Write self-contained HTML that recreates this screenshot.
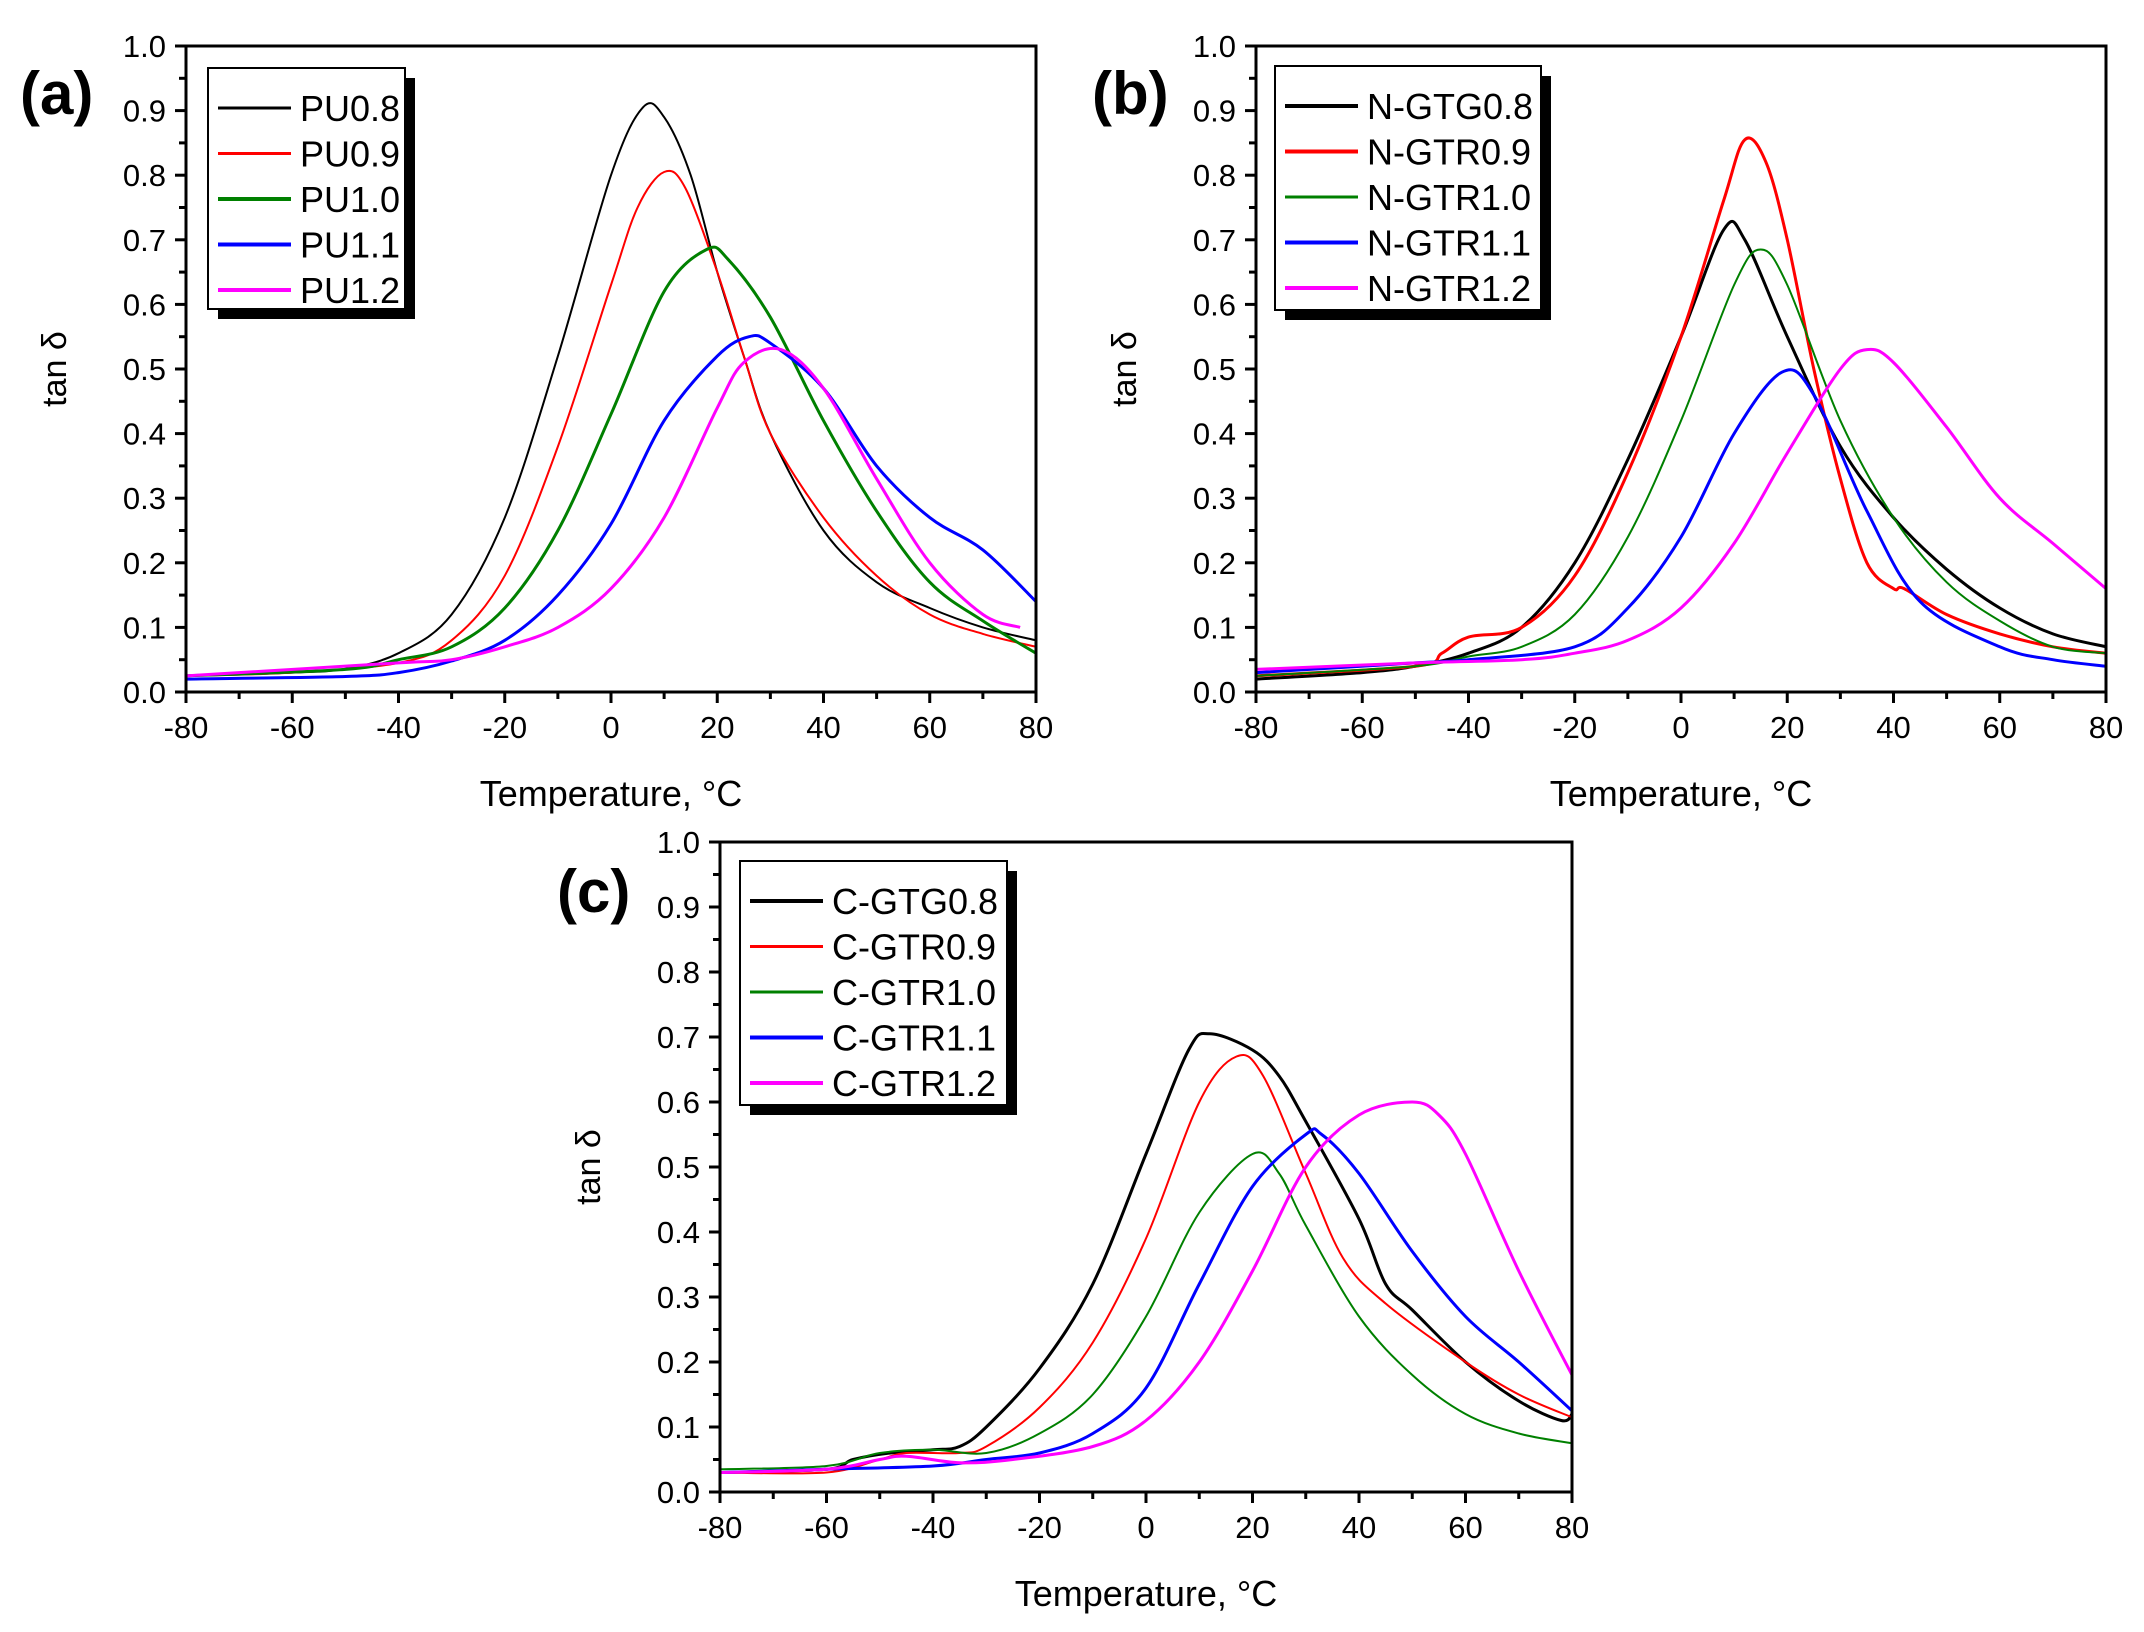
<!DOCTYPE html>
<html><head><meta charset="utf-8"><style>
html,body{margin:0;padding:0;background:#fff;}
svg{display:block;font-family:"Liberation Sans",Arial,sans-serif;}
</style></head><body>
<svg id="s" width="2144" height="1632" viewBox="0 0 2144 1632" xmlns="http://www.w3.org/2000/svg">
<rect width="2144" height="1632" fill="#fff"/>
<g id="g"></g>
<text x="20" y="114" font-size="60" font-weight="bold">(a)</text>
<text x="1092" y="114" font-size="60" font-weight="bold">(b)</text>
<text x="557" y="912" font-size="60" font-weight="bold">(c)</text>
</svg>
<script>
const NS="http://www.w3.org/2000/svg";
const g=document.getElementById('g');
function el(t,a,txt){const e=document.createElementNS(NS,t);for(const k in a)e.setAttribute(k,a[k]);if(txt!==undefined)e.textContent=txt;g.appendChild(e);return e;}
const COL=['#000','#ff0000','#008000','#0000ff','#ff00ff'];
function panel(L,T,W,H,leg,names,widths,data){
  const R=L+W,B=T+H;
  const X=t=>L+(t+80)/160*W, Y=v=>B-v*H;
  data.forEach((pts,i)=>{
    const P=pts.map(p=>[X(p[0]),Y(p[1])]);
    let d='M'+P[0][0].toFixed(1)+','+P[0][1].toFixed(1);
    for(let k=0;k<P.length-1;k++){
      const p0=P[Math.max(0,k-1)],p1=P[k],p2=P[k+1],p3=P[Math.min(P.length-1,k+2)];
      const c1=[p1[0]+(p2[0]-p0[0])/6,p1[1]+(p2[1]-p0[1])/6];
      const c2=[p2[0]-(p3[0]-p1[0])/6,p2[1]-(p3[1]-p1[1])/6];
      d+='C'+c1.map(v=>v.toFixed(1))+' '+c2.map(v=>v.toFixed(1))+' '+p2.map(v=>v.toFixed(1));
    }
    el('path',{d:d,fill:'none',stroke:COL[i],'stroke-width':widths[i]});
  });
  el('rect',{x:L,y:T,width:W,height:H,fill:'none',stroke:'#000','stroke-width':3});
  for(let t=-80;t<=80;t+=10){const x=X(t);el('line',{x1:x,y1:B,x2:x,y2:B+(t%20==0?11:7),stroke:'#000','stroke-width':3});
    if(t%20==0)el('text',{x:x,y:B+46,'font-size':31,'text-anchor':'middle'},String(t));}
  for(let k=0;k<=20;k++){const y=Y(k*0.05);el('line',{x1:L,y1:y,x2:L-(k%2==0?11:7),y2:y,stroke:'#000','stroke-width':3});
    if(k%2==0)el('text',{x:L-20,y:y+11,'font-size':31,'text-anchor':'end'},(k*0.05).toFixed(1));}
  el('text',{x:(L+R)/2,y:B+114,'font-size':36,'text-anchor':'middle'},'Temperature, °C');
  el('text',{x:L-120,y:(T+B)/2,'font-size':34,'text-anchor':'middle',transform:`rotate(-90 ${L-120} ${(T+B)/2})`},'tan δ');
  const [lx,ly,lw,lh]=leg;
  el('rect',{x:lx+10,y:ly+10,width:lw,height:lh,fill:'#000'});
  el('rect',{x:lx,y:ly,width:lw,height:lh,fill:'#fff',stroke:'#000','stroke-width':2});
  names.forEach((n,i)=>{const y=ly+40+i*45.5;
    el('line',{x1:lx+10,y1:y,x2:lx+83,y2:y,stroke:COL[i],'stroke-width':widths[i]+1});
    el('text',{x:lx+92,y:y+13,'font-size':36},n);});
}
const w1=[2,2,3,3,3], w2=[3,3,2,3,3], w3=[3,2,2,3,3];
panel(186,46,850,646,[208,68,197,241],['PU0.8','PU0.9','PU1.0','PU1.1','PU1.2'],w1,[
[[-80,.025],[-60,.03],[-50,.036],[-40,.06],[-30,.12],[-20,.27],[-10,.52],[0,.8],[6,.905],[10,.89],[15,.8],[20,.65],[25,.52],[30,.4],[40,.25],[50,.17],[60,.13],[70,.1],[80,.08]],
[[-80,.025],[-60,.03],[-40,.045],[-30,.08],[-20,.18],[-10,.38],[0,.63],[5,.75],[10,.805],[14,.78],[20,.65],[25,.52],[30,.4],[40,.27],[50,.18],[60,.12],[70,.09],[80,.07]],
[[-80,.025],[-50,.035],[-40,.05],[-30,.07],[-20,.13],[-10,.25],[0,.43],[10,.62],[18,.685],[22,.67],[30,.58],[40,.42],[50,.28],[60,.17],[70,.11],[80,.06]],
[[-80,.02],[-50,.024],[-40,.03],[-30,.048],[-20,.08],[-10,.15],[0,.26],[10,.42],[20,.52],[26,.55],[30,.54],[40,.47],[50,.35],[60,.27],[70,.22],[80,.14]],
[[-80,.025],[-40,.045],[-30,.05],[-20,.07],[-10,.1],[0,.16],[10,.27],[20,.44],[25,.51],[32,.53],[40,.47],[50,.33],[60,.2],[70,.12],[77,.1]]]);
panel(1256,46,850,646,[1275,66,266,244],['N-GTG0.8','N-GTR0.9','N-GTR1.0','N-GTR1.1','N-GTR1.2'],w2,[
[[-80,.02],[-60,.03],[-50,.04],[-40,.06],[-30,.1],[-20,.2],[-10,.36],[0,.55],[8,.715],[12,.7],[20,.55],[30,.38],[40,.27],[50,.19],[60,.13],[70,.09],[80,.07]],
[[-80,.025],[-50,.04],[-45,.06],[-40,.085],[-30,.1],[-20,.18],[-10,.34],[0,.55],[8,.76],[12,.855],[16,.82],[20,.7],[25,.5],[30,.33],[35,.2],[40,.16],[42,.16],[50,.12],[60,.09],[70,.07],[80,.06]],
[[-80,.025],[-50,.04],[-40,.055],[-30,.07],[-20,.12],[-10,.24],[0,.42],[10,.63],[15,.685],[20,.63],[30,.42],[40,.27],[50,.17],[60,.11],[70,.07],[80,.06]],
[[-80,.03],[-50,.045],[-40,.05],[-20,.07],[-10,.13],[0,.24],[10,.4],[19,.495],[25,.46],[35,.28],[45,.14],[60,.07],[70,.05],[80,.04]],
[[-80,.035],[-50,.045],[-30,.05],[-20,.06],[-10,.08],[0,.13],[10,.23],[20,.37],[30,.5],[35,.53],[40,.51],[50,.41],[60,.3],[70,.23],[80,.16]]]);
panel(720,842,852,650,[740,861,267,244],['C-GTG0.8','C-GTR0.9','C-GTR1.0','C-GTR1.1','C-GTR1.2'],w3,[
[[-80,.03],[-60,.035],[-55,.05],[-48,.06],[-40,.065],[-35,.07],[-30,.1],[-20,.19],[-10,.32],[0,.52],[8,.68],[12,.705],[20,.68],[25,.64],[30,.57],[40,.42],[45,.32],[50,.28],[60,.2],[70,.14],[78,.11],[80,.12]],
[[-80,.03],[-60,.03],[-50,.05],[-45,.06],[-35,.06],[-30,.07],[-20,.13],[-10,.23],[0,.39],[10,.6],[17,.67],[22,.64],[30,.49],[37,.36],[45,.29],[60,.2],[70,.15],[80,.115]],
[[-80,.035],[-60,.04],[-50,.06],[-40,.065],[-30,.06],[-20,.09],[-10,.15],[0,.27],[10,.43],[20,.52],[25,.49],[30,.41],[40,.27],[50,.18],[60,.12],[70,.09],[80,.075]],
[[-80,.03],[-60,.035],[-40,.04],[-30,.05],[-20,.06],[-10,.09],[0,.16],[10,.32],[20,.47],[30,.55],[33,.55],[40,.49],[50,.37],[60,.27],[70,.2],[80,.125]],
[[-80,.03],[-60,.035],[-50,.05],[-45,.055],[-35,.045],[-25,.05],[-10,.07],[0,.11],[10,.2],[20,.34],[30,.5],[40,.58],[50,.6],[55,.58],[60,.52],[70,.34],[80,.18]]]);
</script>
</body></html>
